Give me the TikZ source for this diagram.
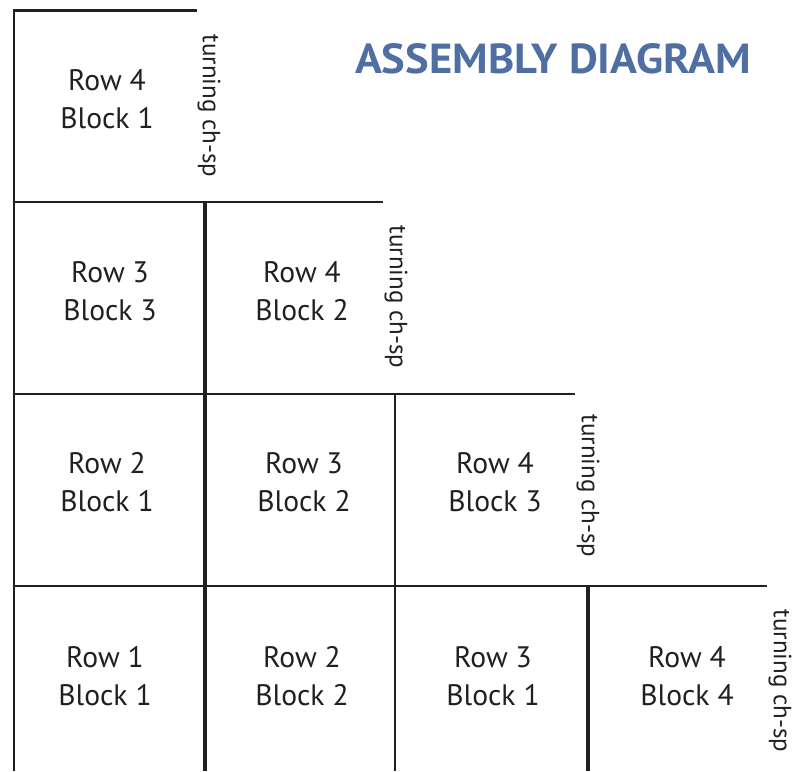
\documentclass[tikz,border=0pt]{standalone}
\usepackage{fontspec}
\setmainfont{PT Sans}
\definecolor{ink}{HTML}{231F20}
\definecolor{titleblue}{HTML}{4F6FA3}
\begin{document}
\begin{tikzpicture}[x=1pt,y=-1pt,
  thinline/.style={draw=ink,line width=2.6pt},
  thickline/.style={draw=ink,line width=4pt},
  cell/.style={inner sep=0pt,align=center,text=ink,font=\fontsize{29.6}{38}\selectfont},
  turnlabel/.style={inner sep=0pt,rotate=-90,text=ink,font=\fontsize{25}{30}\selectfont},
  titlelabel/.style={inner sep=0pt,text=titleblue,xscale=1.06,font=\fontsize{42}{48}\selectfont\bfseries}]
\useasboundingbox (0,0) rectangle (794,771);
% grid lines
\draw[thinline] (197,10.7) -- (14,10.7) -- (14,771);
\draw[thinline] (14,202) -- (383,202);
\draw[thinline] (14,394) -- (575,394);
\draw[thinline] (14,586) -- (767,586);
\draw[thickline] (205,202) -- (205,771);
\draw[thinline] (395,394) -- (395,771);
\draw[thickline] (588,586) -- (588,771);
% title
\node[titlelabel] (title) at (553,58.5) {ASSEMBLY DIAGRAM};
% cells
\node[cell] (r4b1) at (107,99) {Row 4\\Block 1};
\node[cell] (r3b3) at (110,291.5) {Row 3\\Block 3};
\node[cell] (r4b2) at (302,291.5) {Row 4\\Block 2};
\node[cell] (r2b1) at (107,482.5) {Row 2\\Block 1};
\node[cell] (r3b2) at (304,482.5) {Row 3\\Block 2};
\node[cell] (r4b3) at (495,482.5) {Row 4\\Block 3};
\node[cell] (r1b1) at (105,676) {Row 1\\Block 1};
\node[cell] (r2b2) at (302,676) {Row 2\\Block 2};
\node[cell] (r3b1) at (493,676) {Row 3\\Block 1};
\node[cell] (r4b4) at (687,676) {Row 4\\Block 4};
% turning labels
\node[turnlabel] (t1) at (209,106) {turning ch-sp};
\node[turnlabel] (t2) at (396,297) {turning ch-sp};
\node[turnlabel] (t3) at (588,486) {turning ch-sp};
\node[turnlabel] (t4) at (780,681) {turning ch-sp};
\end{tikzpicture}
\end{document}
